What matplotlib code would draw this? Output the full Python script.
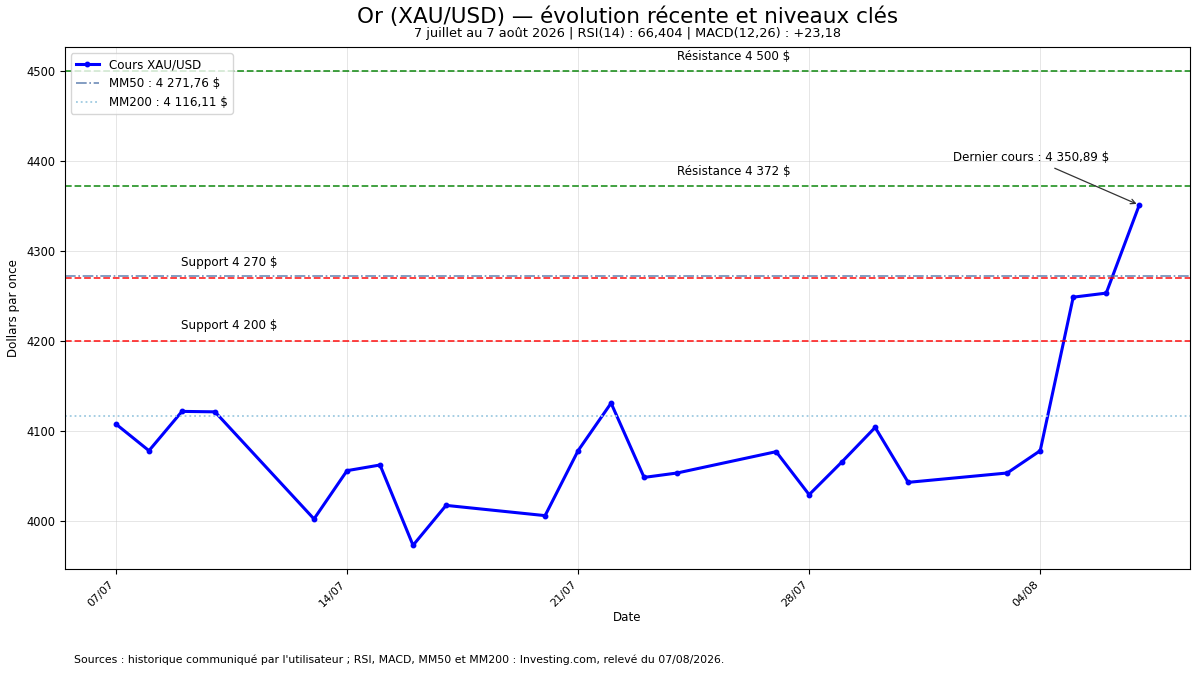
import matplotlib
matplotlib.use("Agg")
import matplotlib.pyplot as plt
import matplotlib.dates as mdates
import matplotlib.transforms as mtransforms
import numpy as np
import pandas as pd

# historique du cours (clôtures)
dates = ["2026-07-07", "2026-07-08", "2026-07-09", "2026-07-10",
         "2026-07-13", "2026-07-14", "2026-07-15", "2026-07-16", "2026-07-17",
         "2026-07-20", "2026-07-21", "2026-07-22", "2026-07-23", "2026-07-24",
         "2026-07-27", "2026-07-28", "2026-07-29", "2026-07-30", "2026-07-31",
         "2026-08-03", "2026-08-04", "2026-08-05", "2026-08-06", "2026-08-07"]
prices = [4107.4, 4077.8, 4121.5, 4121.0,
          4001.9, 4055.6, 4061.9, 3972.6, 4017.0,
          4005.6, 4077.8, 4130.7, 4048.1, 4053.0,
          4076.7, 4028.9, 4065.6, 4103.7, 4042.6,
          4053.0, 4077.8, 4248.5, 4253.0, 4350.89]

mm50 = 4271.76
mm200 = 4116.11
resistances = [4500, 4372]
supports = [4270, 4200]
rsi = "66,404"
macd = "+23,18"

def fr(v, dec=0):
    s = f"{v:,.{dec}f}".replace(",", " ").replace(".", ",")
    return s

x = pd.to_datetime(dates)
fs = 8.6

fig, ax = plt.subplots(figsize=(12, 6.75), dpi=100)
fig.subplots_adjust(left=0.054, right=0.992, top=0.930, bottom=0.157)

ax.plot(x, prices, color="blue", lw=2.2, marker="o", ms=3.2, label="Cours XAU/USD")
ax.axhline(mm50, color="#4a6fa5", ls="-.", lw=1.2, alpha=0.8,
           label=f"MM50 : {fr(mm50, 2)} $")
ax.axhline(mm200, color="#9ecae1", ls=":", lw=1.3,
           label=f"MM200 : {fr(mm200, 2)} $")

trans = mtransforms.blended_transform_factory(ax.transAxes, ax.transData)
for r in resistances:
    ax.axhline(r, color="green", ls="--", lw=1.3, alpha=0.8)
    ax.annotate(f"Résistance {fr(r)} $", xy=(0.594, r), xycoords=trans,
                xytext=(0, 6), textcoords="offset points",
                ha="center", va="bottom", fontsize=fs)
for s in supports:
    ax.axhline(s, color="red", ls="--", lw=1.3, alpha=0.8)
    ax.annotate(f"Support {fr(s)} $", xy=(0.146, s), xycoords=trans,
                xytext=(0, 6), textcoords="offset points",
                ha="center", va="bottom", fontsize=fs)

ax.annotate(f"Dernier cours : {fr(prices[-1], 2)} $", xy=(x[-1], prices[-1]),
            xytext=(-78, 34), textcoords="offset points",
            ha="center", va="center", fontsize=fs,
            arrowprops=dict(arrowstyle="->", color="#333333", lw=0.9))

ax.xaxis.set_major_locator(mdates.WeekdayLocator(byweekday=mdates.TU))
ax.xaxis.set_major_formatter(mdates.DateFormatter("%d/%m"))
plt.setp(ax.get_xticklabels(), rotation=45, ha="right")
ax.tick_params(axis="y", labelsize=8.3)
ax.tick_params(axis="x", labelsize=8)
ax.grid(True, color="#cccccc", alpha=0.5, lw=0.7)

ax.set_xlabel("Date", fontsize=fs, labelpad=1.5)
ax.set_ylabel("Dollars par once", fontsize=fs)
ax.legend(loc="upper left", fontsize=fs)

tx = mtransforms.blended_transform_factory(ax.transAxes, fig.transFigure)
fig.text(0.5, 0.975, "Or (XAU/USD) — évolution récente et niveaux clés",
         transform=tx, ha="center", va="center", fontsize=15.5)
fig.text(0.5, 0.950,
         f"7 juillet au 7 août 2026 | RSI(14) : {rsi} | MACD(12,26) : {macd}",
         transform=tx, ha="center", va="center", fontsize=9.3)
fig.text(0.062, 0.022,
         "Sources : historique communiqué par l'utilisateur ; RSI, MACD, MM50 et MM200 : "
         "Investing.com, relevé du 07/08/2026.",
         ha="left", va="center", fontsize=7.8)

fig.savefig("out.png", dpi=100)
